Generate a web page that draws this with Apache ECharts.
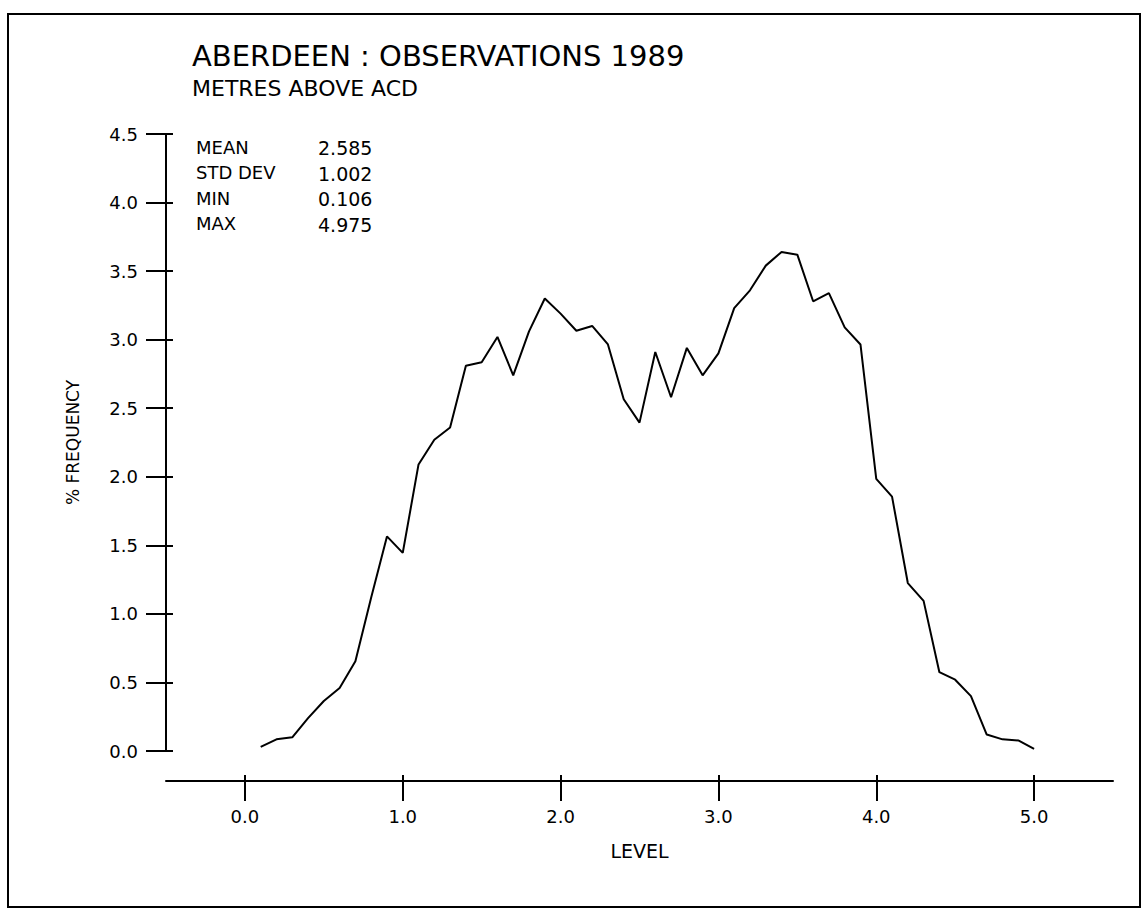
<!DOCTYPE html>
<html>
<head>
<meta charset="utf-8">
<script src="https://cdn.jsdelivr.net/npm/echarts@6/dist/echarts.min.js"></script>
<style>
html,body{margin:0;padding:0;background:#ffffff;}
#chart{width:1144px;height:917px;}
</style>
</head>
<body>
<div id="chart"></div>
<script>
// ---- data ----
const levels = [0.1,0.2,0.3,0.4,0.5,0.6,0.7,0.8,0.9,1.0,
                1.1,1.2,1.3,1.4,1.5,1.6,1.7,1.8,1.9,2.0,
                2.1,2.2,2.3,2.4,2.5,2.6,2.7,2.8,2.9,3.0,
                3.1,3.2,3.3,3.4,3.5,3.6,3.7,3.8,3.9,4.0,
                4.1,4.2,4.3,4.4,4.5,4.6,4.7,4.8,4.9,5.0];
const frequency = [0.03,0.085,0.10,0.24,0.365,0.46,0.655,1.12,1.565,1.445,
                   2.09,2.27,2.36,2.81,2.835,3.02,2.74,3.06,3.30,3.19,
                   3.065,3.10,2.965,2.565,2.395,2.91,2.58,2.94,2.74,2.90,
                   3.23,3.36,3.54,3.64,3.62,3.28,3.34,3.09,2.965,1.985,
                   1.855,1.225,1.095,0.575,0.52,0.40,0.12,0.085,0.077,0.015];
const xTickValues = [0, 1, 2, 3, 4, 5];
const statLabels = ['MEAN', 'STD DEV', 'MIN', 'MAX'];
const statValues = ['2.585', '1.002', '0.106', '4.975'];
const titleText = 'ABERDEEN : OBSERVATIONS 1989';
const subtitleText = 'METRES ABOVE ACD';
const xAxisName = 'LEVEL';
const yAxisName = '% FREQUENCY';

// ---- chart ----
const FONT = 'DejaVu Sans';
const INK = '#000000';
const chart = echarts.init(document.getElementById('chart'), null, {renderer: 'svg'});

const seriesData = levels.map((lv, i) => [lv, frequency[i]]);

const statGraphics = [];
statLabels.forEach((lab, i) => {
  const y = 147 + i * 25.5;
  statGraphics.push({
    type: 'text', x: 196, y: y,
    style: {text: lab, fill: INK, font: '18px "' + FONT + '"', textVerticalAlign: 'middle', verticalAlign: 'middle'}
  });
  statGraphics.push({
    type: 'text', x: 318, y: y + 1,
    style: {text: statValues[i], fill: INK, font: '19px "' + FONT + '"', textVerticalAlign: 'middle', verticalAlign: 'middle'}
  });
});

const axisLineStyle = {color: INK, width: 2};

const option = {
  animation: false,
  backgroundColor: '#ffffff',
  title: [
    {text: titleText, left: 192, top: 41, padding: 0,
     textStyle: {fontFamily: FONT, fontSize: 29, fontWeight: 'normal', color: INK}},
    {text: subtitleText, left: 192, top: 77, padding: 0,
     textStyle: {fontFamily: FONT, fontSize: 22, fontWeight: 'normal', color: INK}}
  ],
  grid: {left: 166, right: 31, top: 134, bottom: 166, containLabel: false, outerBoundsMode: 'none'},
  xAxis: [
    {
      type: 'value', min: -0.5, max: 5.5, position: 'bottom', offset: 30,
      axisLine: {show: true, onZero: false, lineStyle: axisLineStyle},
      axisTick: {show: true, length: 20, customValues: xTickValues, lineStyle: axisLineStyle},
      axisLabel: {show: true, customValues: xTickValues, margin: 26, color: INK, fontFamily: FONT, fontSize: 18,
                  formatter: v => Number(v).toFixed(1)},
      splitLine: {show: false},
      name: xAxisName, nameLocation: 'middle', nameGap: 60,
      nameTextStyle: {fontFamily: FONT, fontSize: 19, color: INK}
    },
    {
      type: 'value', min: -0.5, max: 5.5, position: 'bottom', offset: 30,
      axisLine: {show: false, onZero: false},
      axisTick: {show: true, inside: true, length: 6, customValues: xTickValues, lineStyle: axisLineStyle},
      axisLabel: {show: false},
      splitLine: {show: false}
    }
  ],
  yAxis: [
    {
      type: 'value', min: 0, max: 4.5, interval: 0.5, position: 'left',
      axisLine: {show: true, onZero: false, lineStyle: axisLineStyle},
      axisTick: {show: true, length: 20, lineStyle: axisLineStyle},
      axisLabel: {show: true, margin: 28, color: INK, fontFamily: FONT, fontSize: 18,
                  formatter: v => Number(v).toFixed(1)},
      splitLine: {show: false},
      name: yAxisName, nameLocation: 'middle', nameGap: 85, nameRotate: 90,
      nameTextStyle: {fontFamily: FONT, fontSize: 17, color: INK}
    },
    {
      type: 'value', min: 0, max: 4.5, interval: 0.5, position: 'left',
      axisLine: {show: false, onZero: false},
      axisTick: {show: true, inside: true, length: 7, lineStyle: axisLineStyle},
      axisLabel: {show: false},
      splitLine: {show: false}
    }
  ],
  series: [
    {
      type: 'line', xAxisIndex: 0, yAxisIndex: 0,
      data: seriesData, symbol: 'none', smooth: false,
      lineStyle: {color: INK, width: 2}
    }
  ],
  graphic: [
    {type: 'rect', shape: {x: 8, y: 14, width: 1132, height: 893},
     style: {fill: 'none', stroke: INK, lineWidth: 2}, silent: true}
  ].concat(statGraphics)
};

chart.setOption(option);
</script>
</body>
</html>
